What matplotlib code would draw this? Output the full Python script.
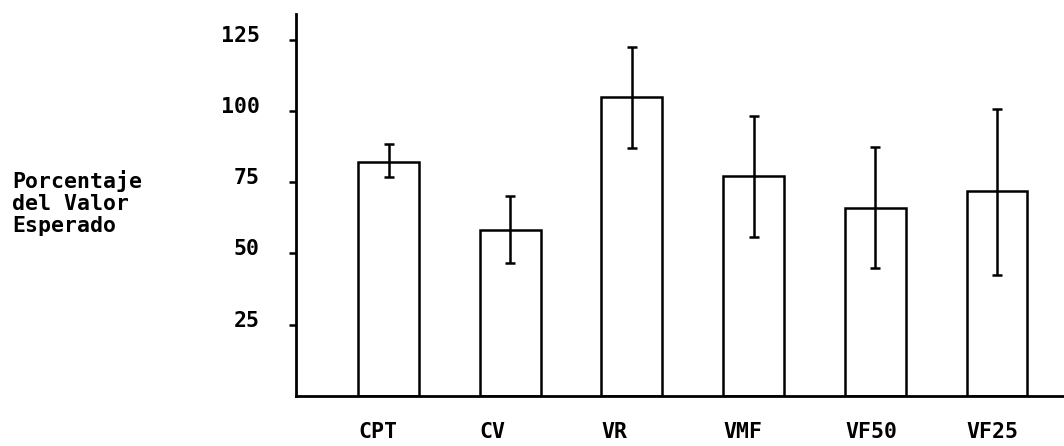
import matplotlib
matplotlib.use("Agg")
import matplotlib.pyplot as plt
import matplotlib.transforms as mtransforms
import numpy as np

# Datos (porcentaje del valor esperado).
grupos = ["CPT", "CV", "VR", "VMF", "VF50", "VF25"]
medias = [82.2, 58.3, 105.0, 77.3, 66.0, 72.0]
err_sup = [88.5, 70.0, 122.5, 98.3, 87.5, 100.8]   # extremo superior de la barra de error
err_inf = [76.9, 46.8, 87.1, 55.9, 45.0, 42.5]     # extremo inferior
yticks = [25, 50, 75, 100, 125]

fuente = "DejaVu Sans Mono"

fig = plt.figure(figsize=(10.64, 4.46), dpi=100)
ax = fig.add_axes([296 / 1064, 50 / 446, 1 - 296 / 1064, 382 / 446])

x = np.arange(len(grupos))
ancho = 0.5
m = np.array(medias)
yerr = [m - np.array(err_inf), np.array(err_sup) - m]

ax.bar(x, medias, ancho, facecolor="none", edgecolor="black", linewidth=1.8, zorder=2)
ax.errorbar(x, medias, yerr=yerr, fmt="none", ecolor="black",
            elinewidth=1.8, capsize=3.5, capthick=1.8, zorder=3)

ax.set_xlim(-0.76, 5.55)
ax.set_ylim(0, 134)

# Eje y: marcas hacia afuera, etiquetas algo por encima de la marca.
ax.set_yticks(yticks)
ax.set_yticklabels([str(v) for v in yticks], fontfamily=fuente,
                   fontweight="bold", fontsize=15.5)
ax.tick_params(axis="y", direction="out", length=5, width=1.8, pad=21)
desplaza = mtransforms.ScaledTranslation(0, 6 / 100, fig.dpi_scale_trans)
for lbl in ax.get_yticklabels():
    lbl.set_transform(lbl.get_transform() + desplaza)

# Eje x: etiquetas alineadas al borde izquierdo de cada barra.
ax.set_xticks(x - ancho / 2)
ax.set_xticklabels(grupos, fontfamily=fuente, fontweight="bold", fontsize=15.5, ha="left")
ax.tick_params(axis="x", length=0, pad=19)

for lado in ["top", "right"]:
    ax.spines[lado].set_visible(False)
ax.spines["left"].set_linewidth(2)
ax.spines["bottom"].set_linewidth(2)

fig.text(12 / 1064, 1 - 203 / 446, "Porcentaje\ndel Valor\nEsperado",
         ha="left", va="center", multialignment="left", linespacing=1.1,
         fontfamily=fuente, fontweight="bold", fontsize=15.5)

plt.savefig("out.png", dpi=100)
